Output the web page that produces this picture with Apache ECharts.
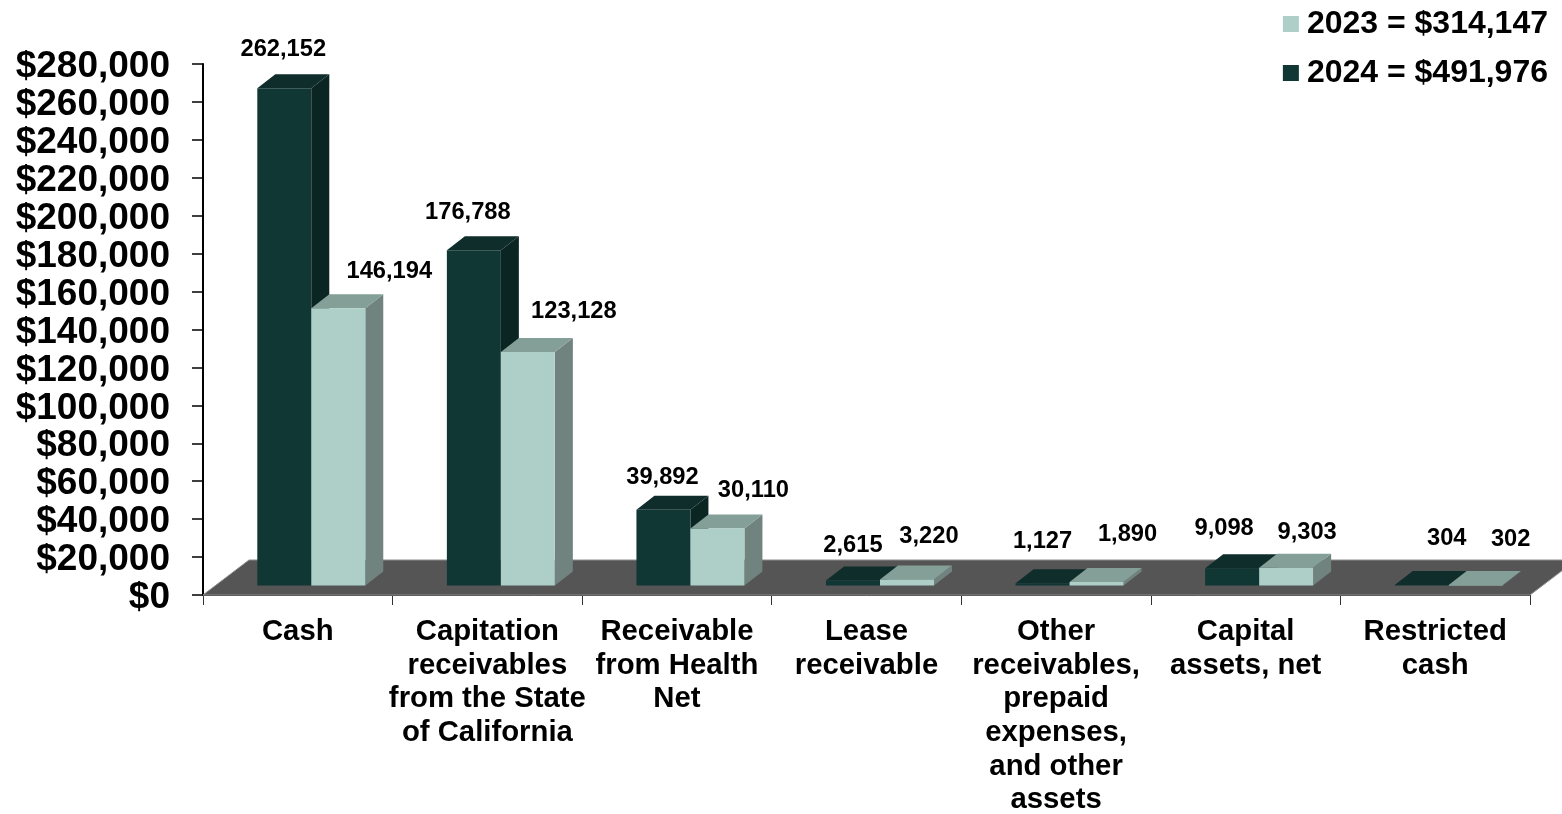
<!DOCTYPE html>
<html><head><meta charset="utf-8">
<style>html,body{margin:0;padding:0;background:#fff}#c{width:1562px;height:814px}</style>
<script src="https://cdn.jsdelivr.net/npm/echarts@6/dist/echarts.min.js"></script>
</head><body><div id="c"></div>
<script>
const categories = ["Cash","Capitation\nreceivables\nfrom the State\nof California","Receivable\nfrom Health\nNet","Lease\nreceivable","Other\nreceivables,\nprepaid\nexpenses,\nand other\nassets","Capital\nassets, net","Restricted\ncash"];
const values2024 = [262152,176788,39892,2615,1127,9098,304];
const values2023 = [146194,123128,30110,3220,1890,9303,302];
const name2023 = "2023 = $314,147";
const name2024 = "2024 = $491,976";
// hand-placed label centres, as [dx, dy] from the top of each front face
const nudge2024 = [[-1,-39],[-6,-38],[-1,-32],[0,-35],[0,-42],[-8,-40],[25,-46]];
const nudge2023 = [[51,-37],[46,-41],[36,-38],[22,-43],[31,-47],[21,-35],[35,-45]];
const DX=18, DY=14, FLOORUP=9.5, FRONT=54/189.6, OFF=13.5/189.6;

const poly=(pts,fill)=>({type:'polygon',shape:{points:pts},style:{fill}});
function barSeries(name,vals,nudge,side,cols){
  return {type:'custom',name,data:vals.map((v,i)=>[i,v]),encode:{x:0,y:1},z:3,
    itemStyle:{color:cols.front},
    renderItem(p,api){
      const i=api.value(0), v=api.value(1), band=api.size([1,0])[0];
      const w=band*FRONT, c=api.coord([i,v]), b=api.coord([i,0]);
      const mid=c[0]+band*OFF, x0=side<0?mid-w:mid, x1=x0+w;
      const yT=c[1]-FLOORUP, yB=b[1]-FLOORUP;
      const n=nudge[i];
      return {type:'group',children:[
        poly([[x1,yT],[x1+DX,yT-DY],[x1+DX,yB-DY],[x1,yB]],cols.side),
        poly([[x0,yT],[x0+DX,yT-DY],[x1+DX,yT-DY],[x1,yT]],cols.top),
        poly([[x0,yT],[x1,yT],[x1,yB],[x0,yB]],cols.front),
        {type:'text',z2:5,style:{text:v.toLocaleString('en-US'),x:(x0+x1)/2+n[0],y:yT+n[1],align:'center',verticalAlign:'middle',
          font:'bold 23.7px "Liberation Sans"',fill:'#000'}}
      ]};
    }};
}
const chart=echarts.init(document.getElementById('c'),null,{renderer:'canvas'});
chart.setOption({
  animation:false,backgroundColor:'#fff',
  grid:{left:203,right:32,top:64,bottom:219,containLabel:false,outerBoundsMode:'none'},
  legend:{orient:'vertical',top:3,right:9,itemWidth:16,itemHeight:16,itemGap:17,icon:'rect',
    data:[name2023,name2024],selectedMode:false,
    textStyle:{fontFamily:'Liberation Sans',fontWeight:'bold',fontSize:32,color:'#000',padding:[0,0,0,3]}},
  xAxis:{type:'category',data:categories,
    axisLine:{show:true,onZero:false,lineStyle:{color:'#333',width:1}},
    axisTick:{show:true,alignWithLabel:false,length:10,lineStyle:{color:'#333',width:1}},
    axisLabel:{interval:0,margin:20,fontFamily:'Liberation Sans',fontWeight:'bold',fontSize:29.3,lineHeight:33.7,color:'#000',verticalAlign:'top'}},
  yAxis:{type:'value',min:0,max:280000,interval:20000,splitLine:{show:false},
    axisLine:{show:true,lineStyle:{color:'#000',width:2}},
    axisTick:{show:true,length:11,lineStyle:{color:'#000',width:1.5}},
    axisLabel:{margin:33,color:'#000',
      rich:{t:{padding:[6,0,0,0],fontFamily:'Liberation Sans',fontWeight:'bold',fontSize:37,color:'#000'}},
      formatter:v=>'{t|$'+v.toLocaleString('en-US')+'}'}},
  series:[
    {type:'custom',name:'floor',silent:true,z:1,data:[[0,0]],encode:{x:0,y:1},
     renderItem(p,api){
       const s=p.coordSys, yF=s.y+s.height, yB=yF-35, L=s.x, R=s.x+s.width;
       return {type:'polygon',shape:{points:[[L,yF],[L+46,yB],[R+46,yB],[R,yF]]},
         style:{fill:'#555555',stroke:'#8d8d8d',lineWidth:1}};
     }},
    barSeries(name2024,values2024,nudge2024,-1,{front:'#113734',side:'#0b2523',top:'#0f2d2b'}),
    barSeries(name2023,values2023,nudge2023,1,{front:'#aecfc8',side:'#70837f',top:'#839f98'})
  ]
});
</script></body></html>
